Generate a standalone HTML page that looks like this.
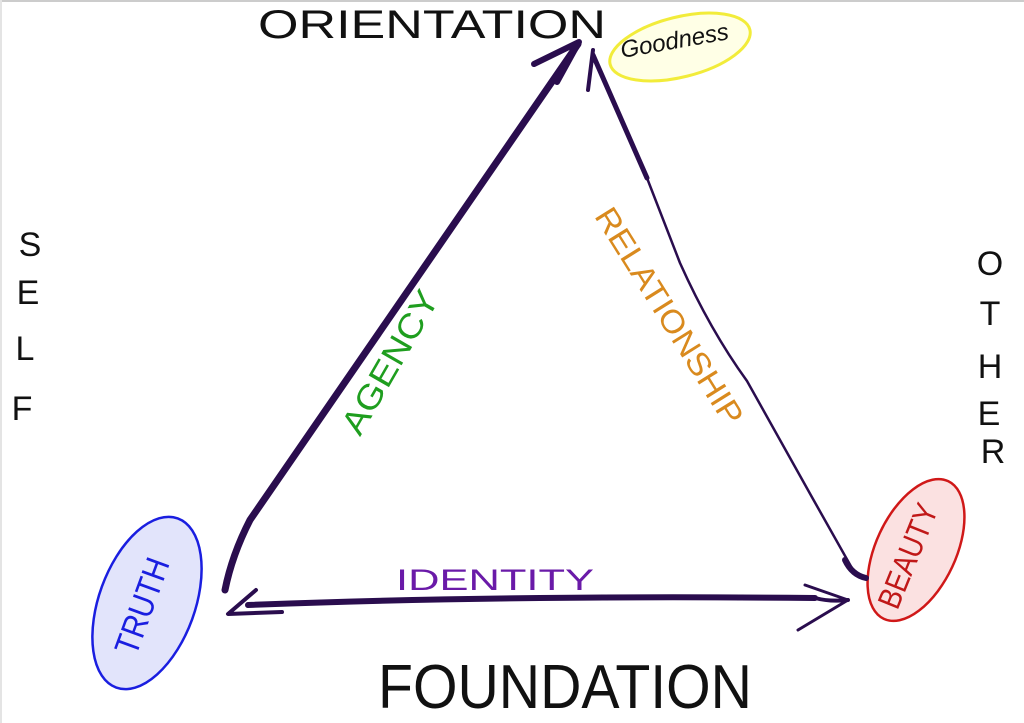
<!DOCTYPE html>
<html><head><style>
html,body{margin:0;padding:0;background:#fff;}
svg{display:block;}
text{font-family:"Liberation Sans",sans-serif;}
</style></head><body>
<svg width="1024" height="723" viewBox="0 0 1024 723" xmlns="http://www.w3.org/2000/svg">
<rect x="0" y="0" width="1024" height="723" fill="#fff"/>
<line x1="0" y1="1" x2="1024" y2="1" stroke="#ccc" stroke-width="2"/>
<line x1="1" y1="0" x2="1" y2="723" stroke="#e4e4e4" stroke-width="2"/>
<!-- ellipses -->
<ellipse cx="680" cy="47" rx="72" ry="30" transform="rotate(-14 680 47)" fill="#ffffe6" stroke="#f2ec3a" stroke-width="3"/>
<ellipse cx="147" cy="603" rx="48" ry="90" transform="rotate(20 147 603)" fill="#e2e4fb" stroke="#1a1ee0" stroke-width="2.5"/>
<ellipse cx="916" cy="550" rx="40" ry="76" transform="rotate(25 916 550)" fill="#fbe1e1" stroke="#d01818" stroke-width="2.5"/>
<!-- triangle -->
<g stroke="#2a0d4e" fill="none" stroke-linecap="round" stroke-linejoin="round">
<path d="M225 590 Q232 555 250 520 L578 44" stroke-width="7"/>
<path d="M534 64 L579 42 L557 82" stroke-width="6"/>
<path d="M593 55 L647 178" stroke-width="5"/>
<path d="M647 178 L680 263 Q710 330 747 381 L813 499 L853 570 Q858 577 866 578" stroke-width="2.5"/>
<path d="M593 50 L588 90" stroke-width="4"/>
<path d="M845 560 Q852 575 866 578" stroke-width="6"/>
<path d="M248 605 Q500 595 815 598" stroke-width="6"/>
<path d="M815 598 Q830 602 848 600" stroke-width="4"/>
<path d="M256 590 L228 614 L282 612" stroke-width="4"/>
<path d="M805 585 L848 600 L798 630" stroke-width="3"/>
</g>
<!-- labels -->
<text x="258" y="38" font-size="40" fill="#111" textLength="348" lengthAdjust="spacingAndGlyphs">ORIENTATION</text>
<text x="378" y="708" font-size="62" fill="#111" textLength="374" lengthAdjust="spacingAndGlyphs">FOUNDATION</text>
<text x="622" y="58" font-size="24" fill="#111" transform="rotate(-10 622 58)" font-style="italic">Goodness</text>
<g font-size="34" fill="#111" text-anchor="middle">
<text x="30" y="256">S</text><text x="28" y="304">E</text><text x="25" y="360">L</text><text x="22" y="420">F</text>
<text x="990" y="275">O</text><text x="990" y="325">T</text><text x="990" y="378">H</text><text x="989" y="425">E</text><text x="993" y="463">R</text>
</g>
<text x="400" y="368" font-size="34" fill="#1f9e1f" text-anchor="middle" transform="rotate(-60 400 368)" textLength="160" lengthAdjust="spacingAndGlyphs">AGENCY</text>
<text x="660" y="322" font-size="32" fill="#d98a1e" text-anchor="middle" transform="rotate(58 660 322)" textLength="250" lengthAdjust="spacingAndGlyphs">RELATIONSHIP</text>
<text x="495" y="590" font-size="30" fill="#6a1aa8" text-anchor="middle" textLength="198" lengthAdjust="spacingAndGlyphs">IDENTITY</text>
<text x="153" y="610" font-size="34" fill="#1a1ee0" text-anchor="middle" transform="rotate(-70 153 610)" textLength="100" lengthAdjust="spacingAndGlyphs">TRUTH</text>
<text x="918" y="560" font-size="32" fill="#c01818" text-anchor="middle" transform="rotate(-68 918 560)" textLength="110" lengthAdjust="spacingAndGlyphs">BEAUTY</text>
</svg>
</body></html>
